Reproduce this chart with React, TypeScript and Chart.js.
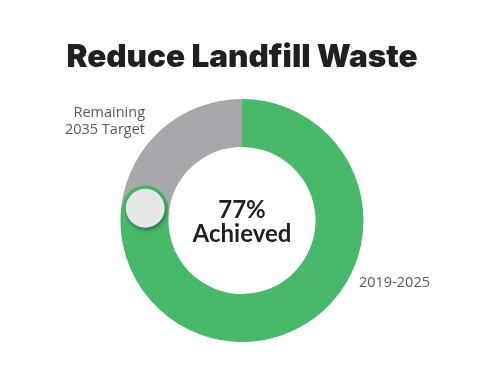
import React, { useEffect, useRef } from "react";
import { Chart, registerables } from "chart.js";

Chart.register(...registerables);

const categories: string[] = ["2019-2025", "Remaining 2035 Target"];
const values: number[] = [77, 23];
const colors: string[] = ["#48b86b", "#a7a8ab"];
const titleText = "Reduce Landfill Waste";
const centerLines: string[] = ["77%", "Achieved"];
const remainingLabel: string[] = ["Remaining", "2035 Target"];
const achievedLabel: string[] = ["2019-2025"];

const overlay = {
  id: "overlay",
  afterDatasetsDraw(chart: any) {
    const ctx = chart.ctx;
    const meta = chart.getDatasetMeta(0);
    const arc = meta.data[0];
    if (!arc) return;
    const { x, y, innerRadius, outerRadius, endAngle } = arc.getProps(
      ["x", "y", "innerRadius", "outerRadius", "endAngle"],
      true
    );
    const r = (innerRadius + outerRadius) / 2;
    const mx = x + Math.cos(endAngle) * r;
    const my = y + Math.sin(endAngle) * r;
    ctx.save();
    ctx.beginPath();
    ctx.arc(mx, my, 23, 0, Math.PI * 2);
    ctx.fillStyle = colors[0];
    ctx.fill();
    ctx.shadowColor = "rgba(0,0,0,0.45)";
    ctx.shadowBlur = 4;
    ctx.shadowOffsetX = 1;
    ctx.shadowOffsetY = 2;
    ctx.beginPath();
    ctx.arc(mx, my, 19.5, 0, Math.PI * 2);
    ctx.fillStyle = "#e6e7e8";
    ctx.fill();
    ctx.restore();
  },
  afterDraw(chart: any) {
    const ctx = chart.ctx;
    const meta = chart.getDatasetMeta(0);
    const arc = meta.data[0];
    const cx = arc.x;
    const cy = arc.y;
    ctx.save();
    ctx.textBaseline = "alphabetic";
    ctx.textAlign = "center";
    ctx.fillStyle = "#231f20";
    ctx.font = "900 31.5px Inter, 'Lato', sans-serif";
    ctx.fillText(titleText, 242, 67);
    ctx.font = "700 24px Lato, Inter, sans-serif";
    ctx.fillText(centerLines[0], cx, cy - 3);
    ctx.fillText(centerLines[1], cx, cy + 21);
    ctx.fillStyle = "#58595b";
    ctx.font = "400 14.5px 'Open Sans', 'Noto Sans', sans-serif";
    ctx.textAlign = "right";
    ctx.fillText(remainingLabel[0], 145, 117);
    ctx.fillText(remainingLabel[1], 145, 134);
    ctx.textAlign = "left";
    ctx.fillText(achievedLabel[0], 359, 287);
    ctx.restore();
  },
};

export default function App() {
  const ref = useRef<HTMLCanvasElement | null>(null);
  useEffect(() => {
    const canvas = ref.current;
    if (!canvas) return;
    const chart = new Chart(canvas, {
      type: "doughnut",
      data: {
        labels: categories,
        datasets: [
          {
            data: values,
            backgroundColor: colors,
            borderWidth: 0,
          },
        ],
      },
      options: {
        responsive: false,
        animation: false,
        cutout: "60.5%",
        layout: { padding: { top: 99, bottom: 32, left: 0, right: 0 } },
        plugins: {
          legend: { display: false },
          tooltip: { enabled: false },
          title: { display: false },
        },
      },
      plugins: [overlay],
    });
    return () => chart.destroy();
  }, []);
  return (
    <div
      style={{
        position: "absolute",
        left: 0,
        top: 0,
        width: 484,
        height: 374,
        background: "#ffffff",
      }}
    >
      <canvas ref={ref} width={484} height={374} />
    </div>
  );
}
